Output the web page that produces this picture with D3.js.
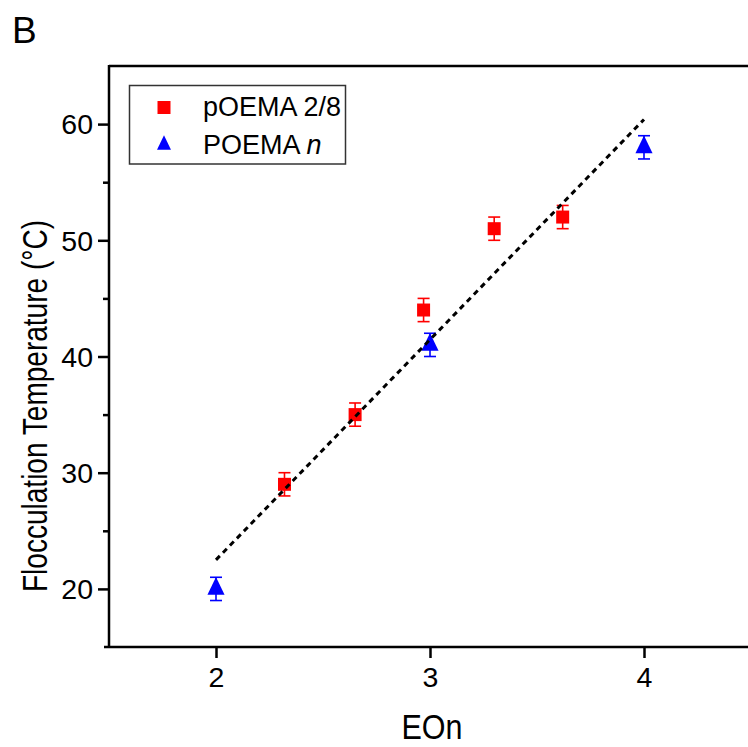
<!DOCTYPE html>
<html>
<head>
<meta charset="utf-8">
<script src="https://cdn.jsdelivr.net/npm/d3@7"></script>
<style>
  body { margin: 0; background: #fff; }
  text { font-family: "Liberation Sans", Arial, sans-serif; fill: #000; }
</style>
</head>
<body>
<div id="chart"></div>
<script>
// pOEMA 2/8 copolymers (red squares)
const copoX = [2.32, 2.65, 2.97, 3.30, 3.62];
const copoY = [29, 35, 44, 51, 52];
const copoErr = [1, 1, 1, 1, 1];

// POEMA n homopolymers (blue triangles)
const homoX = [2, 3, 4];
const homoY = [20, 41, 58];
const homoErr = [1, 1, 1];

// linear fit (dotted line)
const fitX = [2, 4];
const fitY = [22.5, 60.4];

const xTicks = [2, 3, 4];
const yTicks = [20, 30, 40, 50, 60];
const yMinorTicks = [25, 35, 45, 55];

const W = 748, H = 747;

const svg = d3.select('#chart').append('svg')
  .attr('width', W).attr('height', H);

const x = d3.scaleLinear().domain([1.5, 4.5]).range([109, 751]);
const y = d3.scaleLinear().domain([15, 65]).range([647, 66]);

// taller-than-default triangle marker, centred on its centroid
const tallTriangle = {
  draw(ctx, size) {
    const h = Math.sqrt(size) * 1.15;
    const w = h * 0.48;
    ctx.moveTo(0, -h * 2 / 3);
    ctx.lineTo(w, h / 3);
    ctx.lineTo(-w, h / 3);
    ctx.closePath();
  }
};

// panel label
svg.append('text').attr('x', 12).attr('y', 43)
  .style('font-size', '37px').text('B');

// axes
const gx = svg.append('g').attr('transform', `translate(0, ${y(15)})`)
  .call(d3.axisBottom(x).tickValues(xTicks).tickSize(11).tickPadding(9).tickFormat(d3.format('d')));
const gy = svg.append('g').attr('transform', `translate(${x(1.5)}, 0)`)
  .call(d3.axisLeft(y).tickValues(yTicks).tickSize(11).tickPadding(5).tickFormat(d3.format('d')));
const gyMinor = svg.append('g').attr('transform', `translate(${x(1.5)}, 0)`)
  .call(d3.axisLeft(y).tickValues(yMinorTicks).tickSize(6).tickFormat(''));

[gx, gy, gyMinor].forEach(g => {
  g.select('.domain').remove();
  g.selectAll('line').attr('stroke', '#000').attr('stroke-width', 2.5);
  g.selectAll('text').style('font-size', '28.5px').attr('fill', '#000');
});
gy.selectAll('text').attr('dy', '0.34em');

// axis lines and top frame
svg.append('line')
  .attr('x1', x(1.5) - 5).attr('x2', W)
  .attr('y1', y(15)).attr('y2', y(15))
  .attr('stroke', '#000').attr('stroke-width', 2.5);
svg.append('line')
  .attr('x1', x(1.5)).attr('x2', x(1.5))
  .attr('y1', y(65) - 1).attr('y2', y(15))
  .attr('stroke', '#000').attr('stroke-width', 2.5);
svg.append('line')
  .attr('x1', x(1.5)).attr('x2', W)
  .attr('y1', y(65)).attr('y2', y(65))
  .attr('stroke', '#000').attr('stroke-width', 2.5);

// axis titles
svg.append('text')
  .attr('x', 432).attr('y', 739)
  .attr('text-anchor', 'middle')
  .attr('textLength', 61).attr('lengthAdjust', 'spacingAndGlyphs')
  .style('font-size', '35px').text('EOn');
svg.append('text')
  .attr('transform', 'translate(47, 406) rotate(-90)')
  .attr('text-anchor', 'middle')
  .attr('textLength', 372).attr('lengthAdjust', 'spacingAndGlyphs')
  .style('font-size', '35px').text('Flocculation Temperature (°C)');

// error bars
function errorBars(xs, ys, errs, color) {
  const g = svg.append('g').attr('stroke', color).attr('stroke-width', 1.6);
  xs.forEach((xv, i) => {
    const cx = x(xv), top = y(ys[i] + errs[i]), bot = y(ys[i] - errs[i]);
    g.append('line').attr('x1', cx).attr('x2', cx).attr('y1', top).attr('y2', bot);
    g.append('line').attr('x1', cx - 6).attr('x2', cx + 6).attr('y1', top).attr('y2', top);
    g.append('line').attr('x1', cx - 6).attr('x2', cx + 6).attr('y1', bot).attr('y2', bot);
  });
}
errorBars(copoX, copoY, copoErr, '#ff0000');
errorBars(homoX, homoY, homoErr, '#0000ff');

// markers
const squareSym = d3.symbol().type(d3.symbolSquare).size(13 * 13);
const triSym = d3.symbol().type(tallTriangle).size(240);

svg.append('g').selectAll('path')
  .data(copoX.map((d, i) => [d, copoY[i]]))
  .join('path')
  .attr('transform', d => `translate(${x(d[0])}, ${y(d[1])})`)
  .attr('d', squareSym)
  .attr('fill', '#ff0000');

svg.append('g').selectAll('path')
  .data(homoX.map((d, i) => [d, homoY[i]]))
  .join('path')
  .attr('transform', d => `translate(${x(d[0])}, ${y(d[1])})`)
  .attr('d', triSym)
  .attr('fill', '#0000ff');

// fit line on top
const fitLine = d3.line().x(d => x(d[0])).y(d => y(d[1]));
svg.append('path')
  .datum(fitX.map((d, i) => [d, fitY[i]]))
  .attr('d', fitLine)
  .attr('fill', 'none')
  .attr('stroke', '#000')
  .attr('stroke-width', 3)
  .attr('stroke-dasharray', '5.5,4.5');

// legend
const legend = svg.append('g');
legend.append('rect')
  .attr('x', 129.5).attr('y', 85.5).attr('width', 216).attr('height', 78.5)
  .attr('fill', '#fff').attr('stroke', '#333').attr('stroke-width', 1.5);
legend.append('path')
  .attr('transform', 'translate(164, 107.5)')
  .attr('d', squareSym).attr('fill', '#ff0000');
legend.append('path')
  .attr('transform', 'translate(164, 145)')
  .attr('d', d3.symbol().type(tallTriangle).size(160)).attr('fill', '#0000ff');
legend.append('text').attr('x', 203).attr('y', 116)
  .attr('textLength', 138).attr('lengthAdjust', 'spacingAndGlyphs')
  .style('font-size', '27px').text('pOEMA 2/8');
const t2 = legend.append('text').attr('x', 203).attr('y', 154)
  .style('font-size', '27px');
t2.append('tspan').text('POEMA ');
t2.append('tspan').style('font-style', 'italic').text('n');
</script>
</body>
</html>
